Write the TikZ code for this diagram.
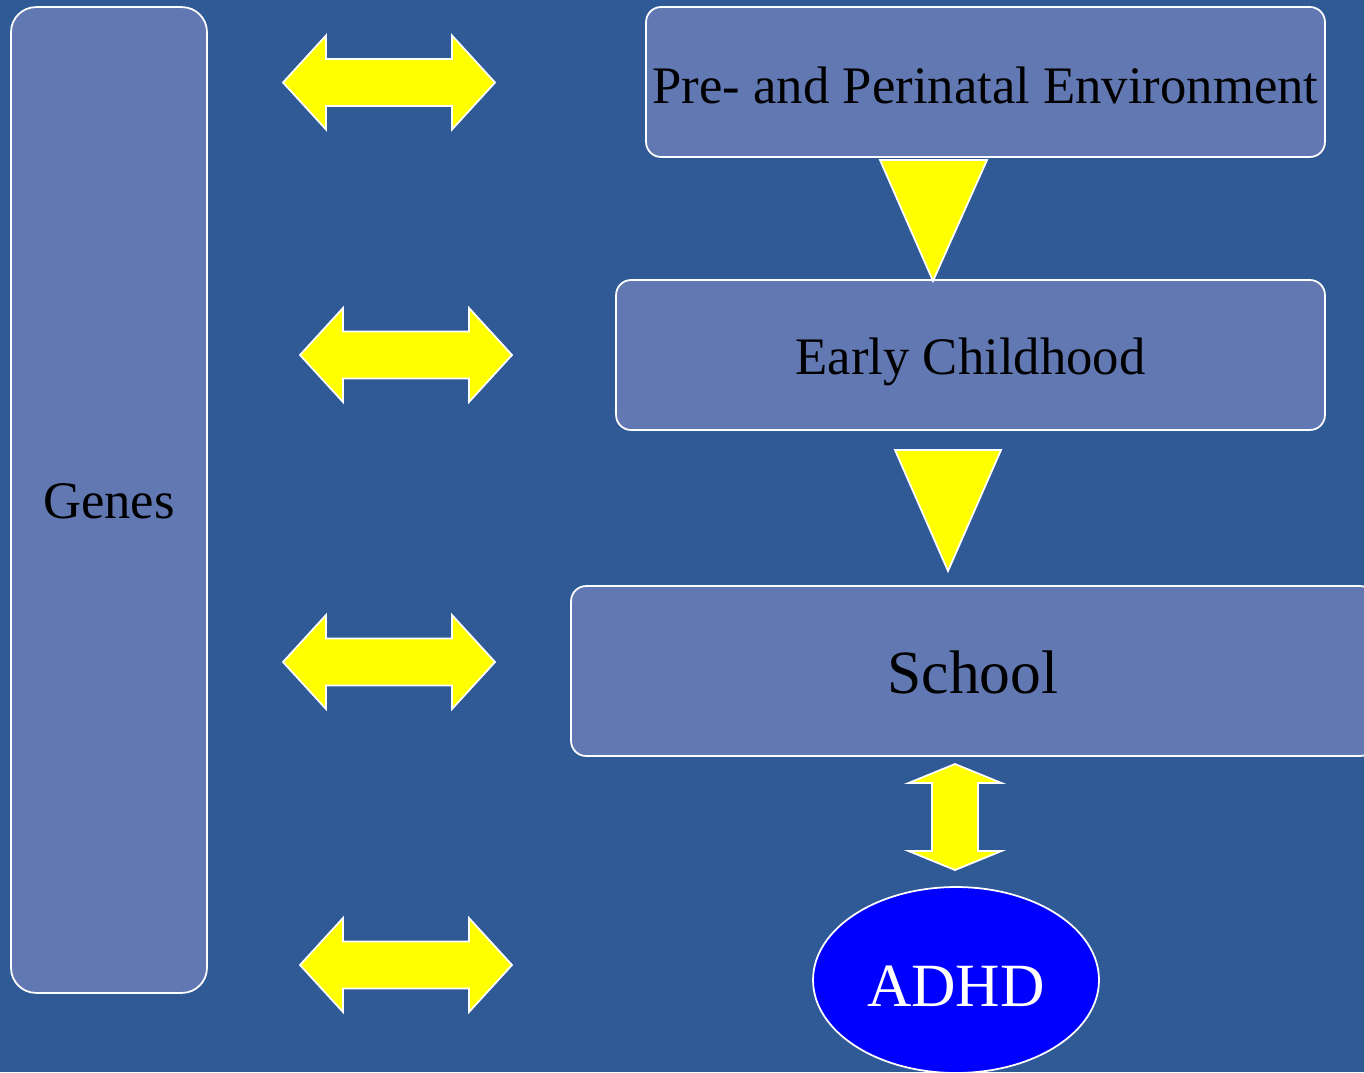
\documentclass[tikz,border=0pt]{standalone}
\usepackage{fontspec}
\setmainfont{Liberation Serif}
\usetikzlibrary{shapes.geometric}
\definecolor{slidebg}{HTML}{305A96}
\definecolor{boxfill}{HTML}{6278B2}
\definecolor{arrowfill}{RGB}{255,255,0}
\newcommand\lowered[2]{\raisebox{-#1}[\height][\depth]{#2}}
\tikzset{
  box/.style={rectangle, rounded corners=0.3cm, draw=white, line width=1pt,
    fill=boxfill, inner sep=0pt, text=black},
  bigarrow/.style={fill=arrowfill, draw=white, line width=1pt, line join=miter}
}
\begin{document}
\begin{tikzpicture}[x=0.02cm, y=-0.02cm]
      \path[use as bounding box, fill=slidebg] (0,0) rectangle (1364,1072);
      \node[box, rounded corners=0.5cm, minimum width=3.92cm, minimum height=19.72cm,
        font=\fontsize{30}{36}\selectfont] (genes) at (109,500) {\lowered{1pt}{Genes}};
      \node[box, minimum width=13.58cm, minimum height=3.0cm,
        font=\fontsize{30}{36}\selectfont] (pre) at (985.5,82) {\lowered{1.7pt}{Pre- and Perinatal Environment}};
      \node[box, minimum width=14.18cm, minimum height=3.0cm,
        font=\fontsize{30}{36}\selectfont] (early) at (970.5,355) {\lowered{4pt}{Early Childhood}};
      \node[box, minimum width=16.08cm, minimum height=3.4cm,
        font=\fontsize{35}{42}\selectfont] (school) at (973,671) {\lowered{1pt}{School}};
      \node[ellipse, draw=white, line width=1pt, fill=blue, text=white, inner sep=0pt,
        minimum width=5.72cm, minimum height=3.72cm,
        font=\fontsize{35}{42}\selectfont] (adhd) at (956,980) {\lowered{3.4pt}{ADHD}};
      % genes <-> environments
      \foreach \cx/\cy in {389/82.5, 406/355, 389/662, 406/965}
        \draw[bigarrow, shift={(\cx,\cy)}]
          (-106,0) -- (-63,-47) -- (-63,-23.5) -- (63,-23.5) -- (63,-47) -- (106,0)
          -- (63,47) -- (63,23.5) -- (-63,23.5) -- (-63,47) -- cycle;
      % down the time line
      \draw[bigarrow] (880,160) -- (987,160) -- (933,281) -- cycle;
      \draw[bigarrow] (895,450) -- (1001,450) -- (948,571) -- cycle;
      % school <-> adhd
      \draw[bigarrow, shift={(955,817)}]
        (0,-53) -- (46.5,-34) -- (23,-34) -- (23,34) -- (46.5,34) -- (0,53)
        -- (-46.5,34) -- (-23,34) -- (-23,-34) -- (-46.5,-34) -- cycle;
    \end{tikzpicture}
\end{document}
